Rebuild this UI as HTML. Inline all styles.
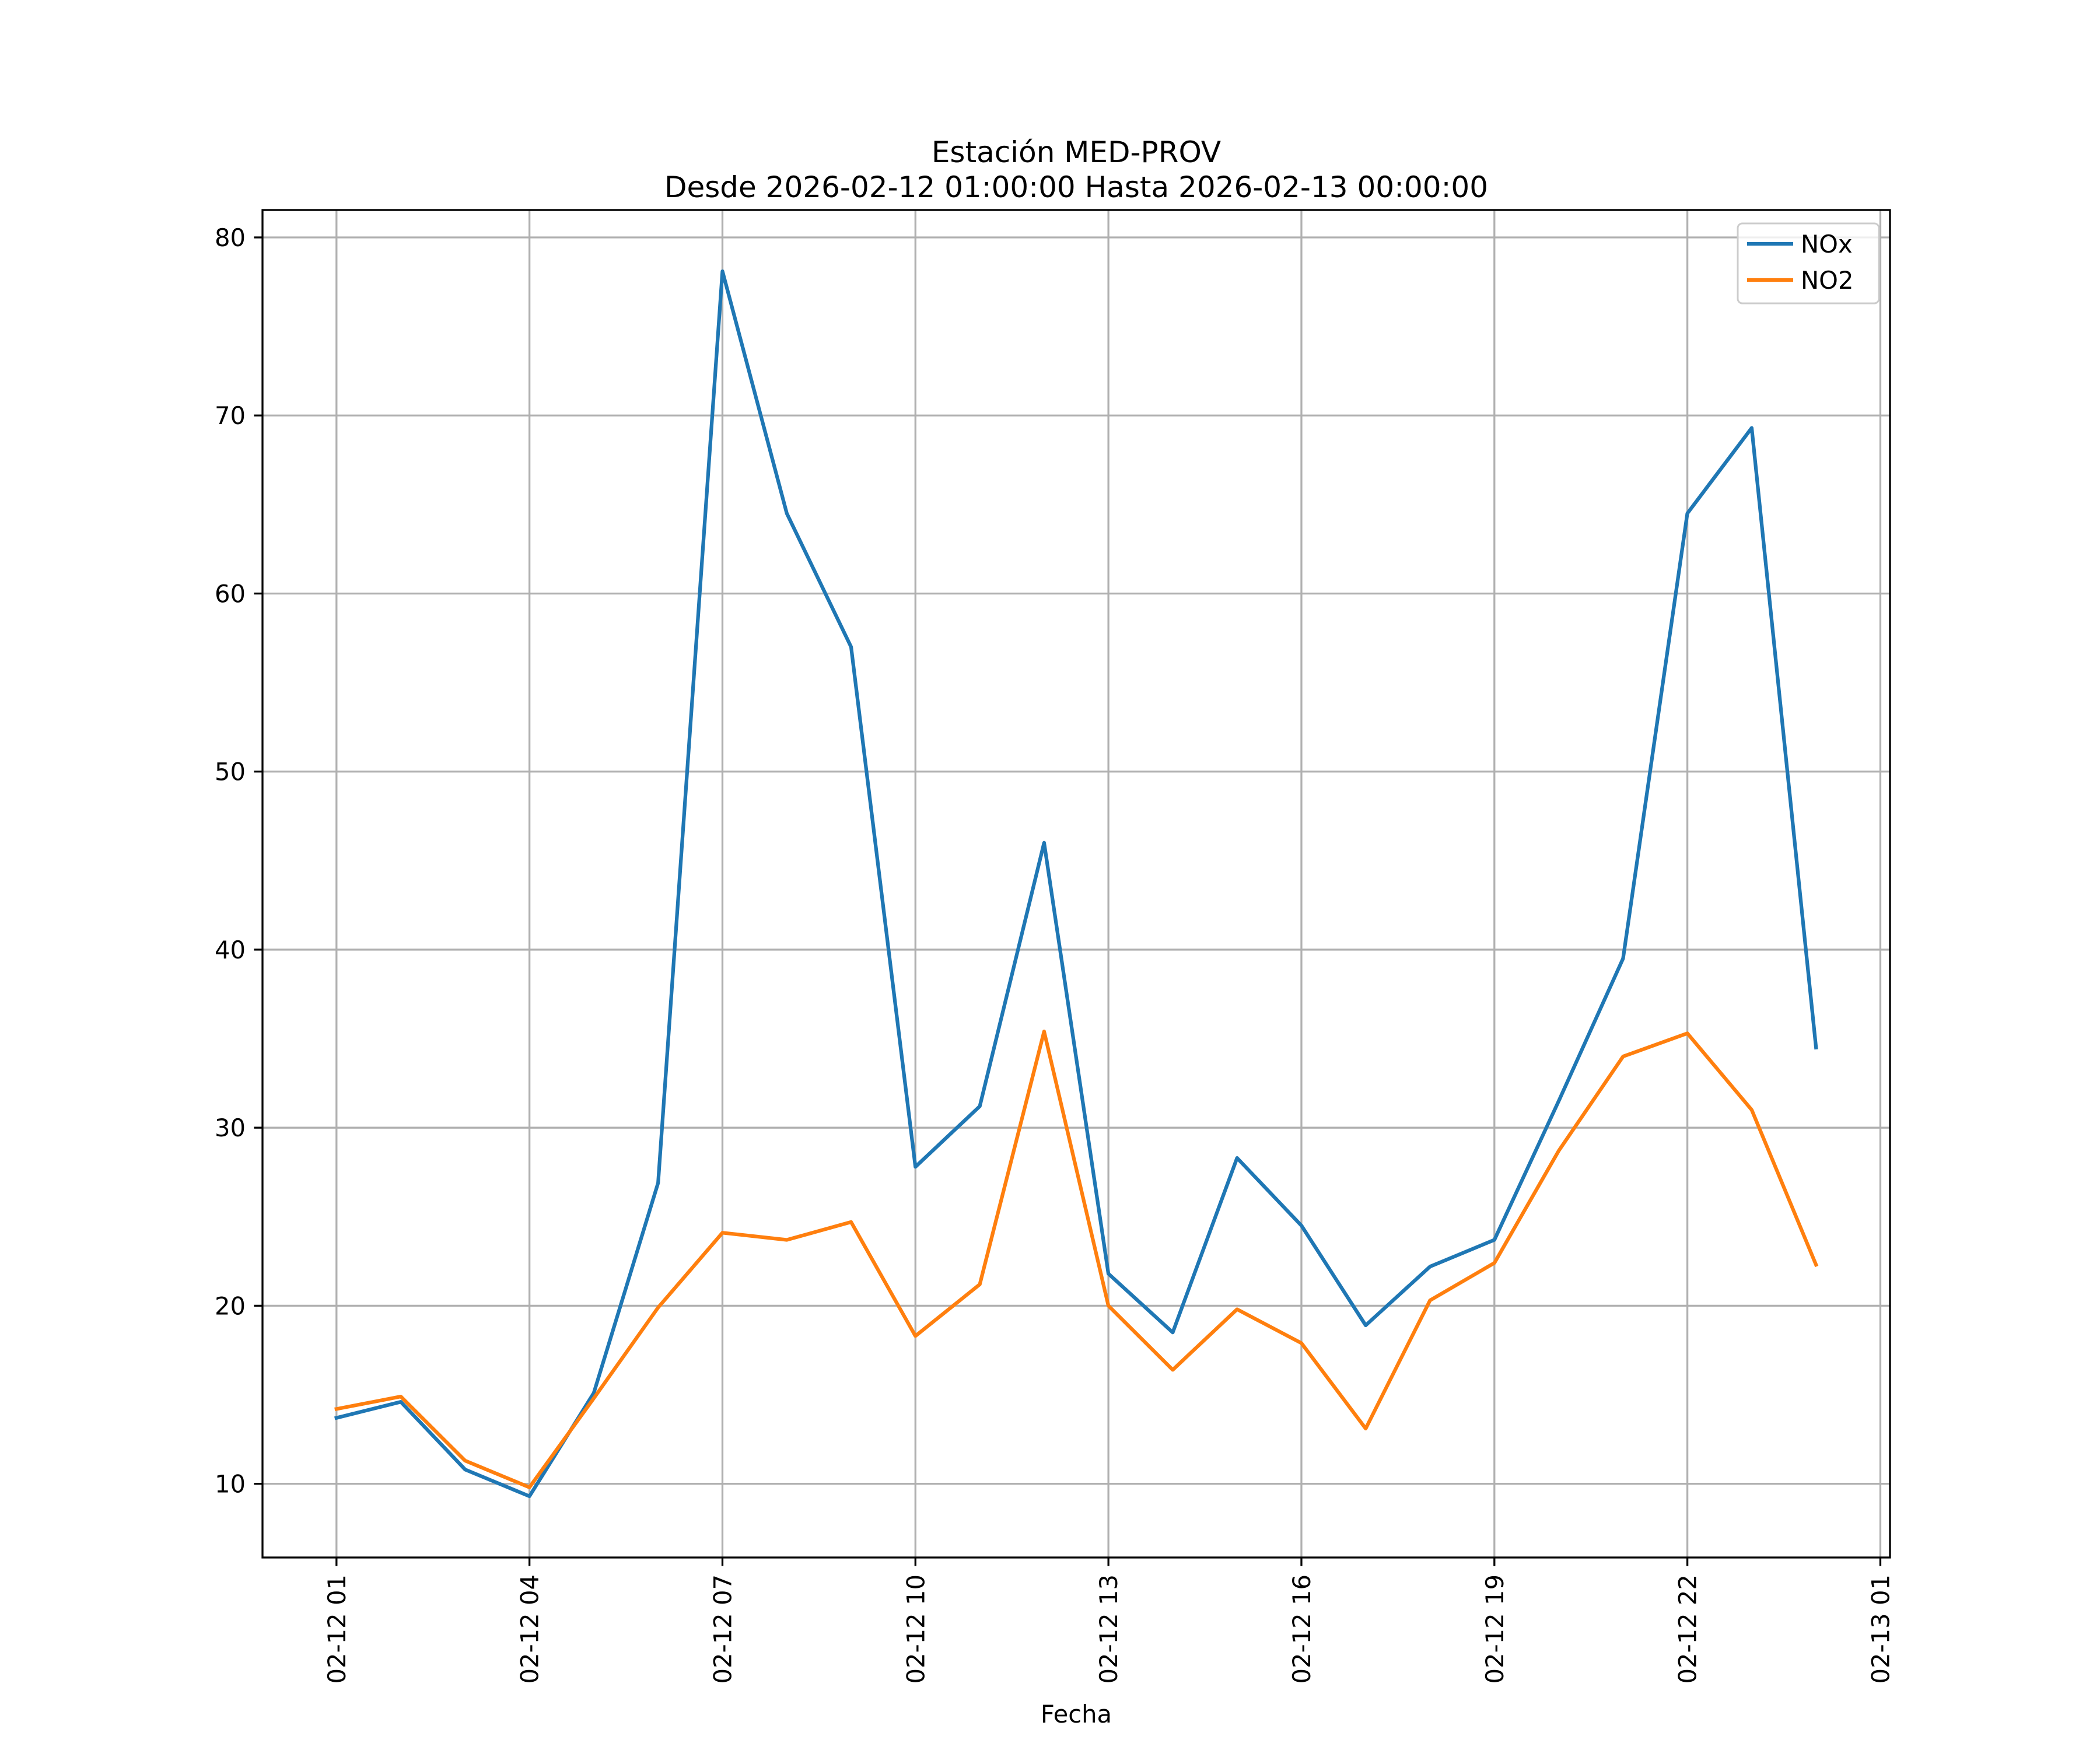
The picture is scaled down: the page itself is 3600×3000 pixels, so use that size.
<!DOCTYPE html>
<html><head><meta charset="utf-8"><style>html,body{margin:0;padding:0;background:#fff}svg{display:block}text{font-family:"DejaVu Sans","Liberation Sans",sans-serif;fill:#000}</style></head>
<body>
<svg id="chart" width="3600" height="3000" xmlns="http://www.w3.org/2000/svg">
<rect width="3600" height="3000" fill="#fff"/>
<text x="1845" y="278" font-size="50" text-anchor="middle">Estación MED-PROV</text>
<text x="1845" y="338" font-size="50" text-anchor="middle">Desde 2026-02-12 01:00:00 Hasta 2026-02-13 00:00:00</text>
<g id="grid"></g>
<g id="series"></g>
<rect x="450" y="360" width="2790" height="2310" fill="none" stroke="#000" stroke-width="3.3"/>
<g id="ticks"></g>
<text x="1845" y="2953" font-size="41.7" text-anchor="middle">Fecha</text>
<g>
<rect x="2979" y="383" width="242" height="137" rx="8" fill="#fff" fill-opacity="0.8" stroke="#ccc" stroke-width="3"/>
<line x1="2995" y1="418" x2="3074" y2="418" stroke="#1f77b4" stroke-width="6.25"/>
<text x="3087" y="433" font-size="41.7">NOx</text>
<line x1="2995" y1="480" x2="3074" y2="480" stroke="#ff7f0e" stroke-width="6.25"/>
<text x="3087" y="495" font-size="41.7">NO2</text>
</g>
</svg>
<script>
const hours = [1,2,3,4,5,6,7,8,9,10,11,12,13,14,15,16,17,18,19,20,21,22,23,24];
const noxValues = [13.7,14.6,10.8,9.3,15.1,26.9,78.1,64.5,57.0,27.8,31.2,46.0,21.8,18.5,28.3,24.5,18.9,22.2,23.7,31.5,39.5,64.5,69.3,34.5];
const no2Values = [14.2,14.9,11.3,9.8,14.8,19.9,24.1,23.7,24.7,18.3,21.2,35.4,20.0,16.4,19.8,17.9,13.1,20.3,22.4,28.7,34.0,35.3,31.0,22.3];
const yTicks = [10,20,30,40,50,60,70,80];
const xTickHours = [1,4,7,10,13,16,19,22,25];
const xTickLabels = ["02-12 01","02-12 04","02-12 07","02-12 10","02-12 13","02-12 16","02-12 19","02-12 22","02-13 01"];

const NS="http://www.w3.org/2000/svg";
const L=450,R=3240,T=360,B=2670;
const all=noxValues.concat(no2Values);
const ymin=Math.min(...all),ymax=Math.max(...all),yr=ymax-ymin;
const y0=ymin-0.05*yr,y1=ymax+0.05*yr;
const xmin=Math.min(...hours),xmax=Math.max(...hours),xr=xmax-xmin;
const x0=xmin-0.05*xr,x1=xmax+0.05*xr;
const sx=h=>L+(h-x0)/(x1-x0)*(R-L);
const sy=v=>B-(v-y0)/(y1-y0)*(B-T);
function mk(tag,attrs,parent){const e=document.createElementNS(NS,tag);for(const k in attrs)e.setAttribute(k,attrs[k]);parent.appendChild(e);return e;}
const grid=document.getElementById('grid'),ticks=document.getElementById('ticks'),series=document.getElementById('series');
yTicks.forEach(v=>{const y=sy(v);
 const g=mk('line',{x1:L,x2:R,y1:y,y2:y,stroke:'#b0b0b0','stroke-width':3.3},grid);
 
 
 const t=mk('line',{x1:L-14.6,x2:L,y1:y,y2:y,stroke:'#000','stroke-width':3.3},ticks);
 
 
 const tx=mk('text',{x:L-29,y:y+15,'font-size':41.7,'text-anchor':'end'},ticks);tx.textContent=v;
 
 
});
xTickHours.forEach((h,i)=>{const x=sx(h);
 const g=mk('line',{x1:x,x2:x,y1:T,y2:B,stroke:'#b0b0b0','stroke-width':3.3},grid);
 
 
 const t=mk('line',{x1:x,x2:x,y1:B,y2:B+14.6,stroke:'#000','stroke-width':3.3},ticks);
 
 
 const tx=mk('text',{x:0,y:0,'font-size':41.7,'text-anchor':'end',transform:`translate(${x+15},${B+29}) rotate(-90)`},ticks);tx.textContent=xTickLabels[i];
 
 
});
function line(vals,color,name){const d=vals.map((v,i)=>(i?'L':'M')+sx(hours[i]).toFixed(1)+' '+sy(v).toFixed(1)).join(' ');
 const p=mk('path',{d:d,fill:'none',stroke:color,'stroke-width':6.25,'stroke-linejoin':'round','stroke-linecap':'square'},series);
 
 
}
line(noxValues,'#1f77b4','nox-line');
line(no2Values,'#ff7f0e','no2-line');
</script>
</body></html>
